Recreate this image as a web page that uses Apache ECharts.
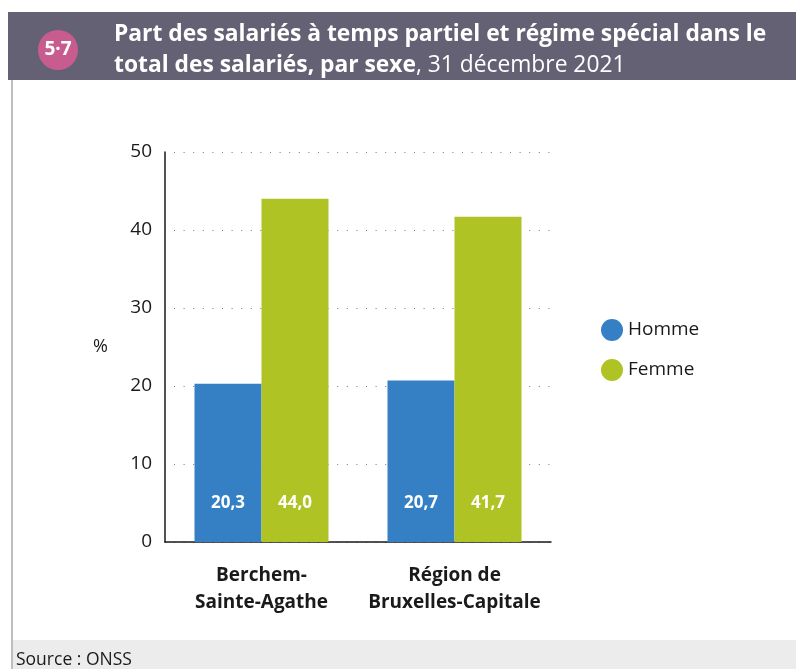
<!DOCTYPE html>
<html>
<head>
<meta charset="utf-8">
<script src="https://cdn.jsdelivr.net/npm/echarts@6/dist/echarts.min.js"></script>
<style>
  html, body { margin: 0; padding: 0; background: #fff; }
  #chart { width: 796px; height: 669px; }
</style>
</head>
<body>
<div id="chart"></div>
<script>
// données
let categories = ["Berchem-\nSainte-Agathe", "Région de\nBruxelles-Capitale"];
let hommeData = [20.3, 20.7];
let femmeData = [44.0, 41.7];
let seriesNames = ["Homme", "Femme"];
let yTicks = [0, 10, 20, 30, 40, 50];

let chartDOM = document.getElementById("chart");
let chart = echarts.init(chartDOM);

let font = "'Open Sans', 'Noto Sans', sans-serif";
let blue = "#3580c4";
let green = "#afc424";

function fmt(p){
    return p.value.toFixed(1).replace(".", ",");
}

let opts = {
    textStyle: { fontFamily: font },
    animation: false,
    grid: { left: 165, right: 245, top: 152, bottom: 127 },
    legend: {
        data: seriesNames,
        orient: "vertical",
        left: 596,
        top: 314,
        icon: "circle",
        itemWidth: 22,
        itemHeight: 22,
        itemGap: 18,
        textStyle: { fontSize: 19, color: "#1a1a1a", fontFamily: font }
    },
    xAxis: {
        type: "category",
        data: categories,
        axisLine: { lineStyle: { color: "#1a1a1a", width: 1.5 } },
        axisTick: { show: false },
        axisLabel: {
            interval: 0,
            margin: 20,
            fontSize: 19,
            fontWeight: "bold",
            color: "#1a1a1a",
            lineHeight: 27
        }
    },
    yAxis: {
        type: "value",
        min: yTicks[0],
        max: yTicks[yTicks.length - 1],
        interval: 10,
        name: "%",
        nameLocation: "middle",
        nameRotate: 0,
        nameGap: 57,
        nameTextStyle: { fontSize: 18, color: "#1a1a1a" },
        axisLine: { show: true, lineStyle: { color: "#1a1a1a", width: 1.5 } },
        axisTick: { show: false },
        axisLabel: { margin: 13, fontSize: 19, color: "#1a1a1a" },
        splitLine: {
            show: true,
            lineStyle: { color: "#777", width: 1, type: [1, 8.6], dashOffset: -9 }
        }
    },
    series: [
        {
            name: seriesNames[0],
            type: "bar",
            data: hommeData,
            barWidth: 67,
            barGap: "0%",
            itemStyle: { color: blue },
            label: {
                show: true,
                position: "insideBottom",
                distance: 30,
                color: "#fff",
                fontWeight: "bold",
                fontSize: 17,
                formatter: fmt
            }
        },
        {
            name: seriesNames[1],
            type: "bar",
            data: femmeData,
            barWidth: 67,
            barGap: "0%",
            itemStyle: { color: green },
            label: {
                show: true,
                position: "insideBottom",
                distance: 30,
                color: "#fff",
                fontWeight: "bold",
                fontSize: 17,
                formatter: fmt
            }
        }
    ],
    graphic: [
        // bordure gauche
        { type: "line", shape: { x1: 12, y1: 80, x2: 12, y2: 669 }, style: { stroke: "#a8a8a8", lineWidth: 1.5 }, z: 10 },
        // bandeau titre
        { type: "rect", shape: { x: 8, y: 12, width: 788, height: 68 }, style: { fill: "#656174" }, z: 10 },
        { type: "circle", shape: { cx: 58, cy: 50, r: 20 }, style: { fill: "#c95c8f" }, z: 11 },
        {
            type: "text", x: 58, y: 50, z: 12,
            style: { text: "5·7", fill: "#fff", font: "bold 19px " + font, align: "center", verticalAlign: "middle" }
        },
        {
            type: "text", x: 114, y: 35, z: 12,
            style: {
                text: "Part des salariés à temps partiel et régime spécial dans le",
                fill: "#fff", font: "bold 22.8px " + font, verticalAlign: "middle"
            }
        },
        {
            type: "text", x: 114, y: 66, z: 12,
            style: {
                text: "{b|total des salariés, par sexe}{n|, 31 décembre 2021}",
                verticalAlign: "middle",
                rich: {
                    b: { fill: "#fff", fontFamily: font, fontWeight: "bold", fontSize: 22.8 },
                    n: { fill: "#fff", fontFamily: font, fontWeight: "normal", fontSize: 22.8 }
                }
            }
        },
        // pied de page
        { type: "rect", shape: { x: 13, y: 640, width: 783, height: 29 }, style: { fill: "#ececec" }, z: 10 },
        {
            type: "text", x: 16, y: 660, z: 12,
            style: { text: "Source : ONSS", fill: "#1a1a1a", font: "17.5px " + font, verticalAlign: "middle" }
        }
    ]
};
chart.setOption(opts);
</script>
</body>
</html>
